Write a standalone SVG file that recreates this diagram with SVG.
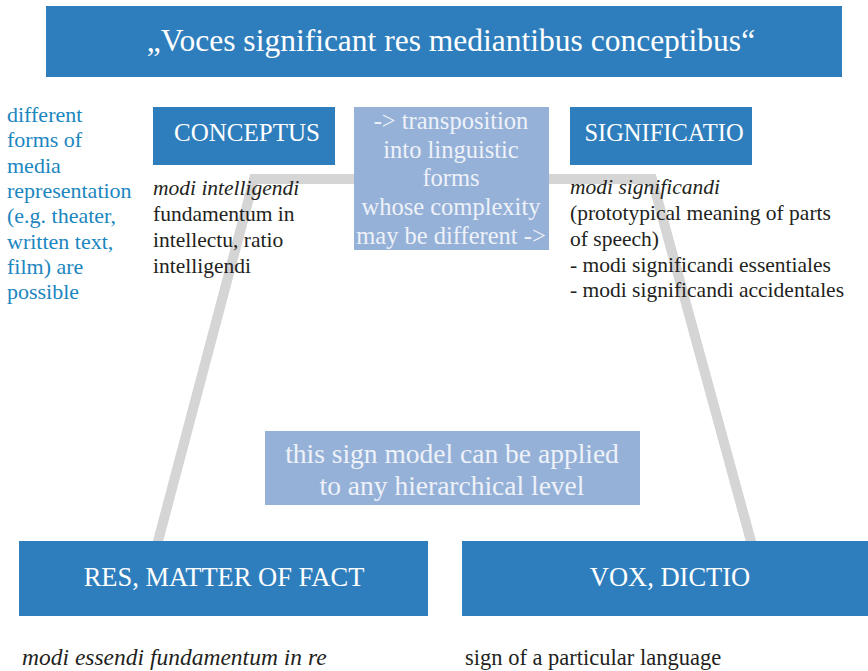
<svg xmlns="http://www.w3.org/2000/svg" width="868" height="671" viewBox="0 0 868 671">
<style>
.dark{fill:#2e7ebd}
.light{fill:#95b1d8}
.wt{fill:#ffffff;text-anchor:middle}
.lt{fill:#eef2f8;text-anchor:middle}
.body{fill:#231f20;font-size:21.5px}
.side{fill:#1b86c0;font-size:22px}
.conn{fill:none;stroke:#d5d5d5;stroke-width:10;stroke-linejoin:miter}
</style>
<rect width="868" height="671" fill="#ffffff"/>
<g id="connectors">
<polyline class="conn" points="157,545 254,179 652,179 752,545"/>
</g>
<g id="title">
<rect class="dark" x="46" y="6" width="796" height="71"/>
<text class="wt" x="451" y="51" font-size="31.5" font-family="Liberation Serif">„Voces significant res mediantibus conceptibus“</text>
</g>
<g id="side-note">
<text class="side" x="7" y="122" font-family="Liberation Serif">different</text>
<text class="side" x="7" y="147.3" font-family="Liberation Serif">forms of</text>
<text class="side" x="7" y="172.6" font-family="Liberation Serif">media</text>
<text class="side" x="7" y="197.9" font-family="Liberation Serif">representation</text>
<text class="side" x="7" y="223.2" font-family="Liberation Serif">(e.g. theater,</text>
<text class="side" x="7" y="248.5" font-family="Liberation Serif">written text,</text>
<text class="side" x="7" y="273.8" font-family="Liberation Serif">film) are</text>
<text class="side" x="7" y="299.1" font-family="Liberation Serif">possible</text>
</g>
<g id="conceptus">
<rect class="dark" x="153" y="107" width="182" height="58"/>
<text class="wt" x="247" y="141" font-size="25" font-family="Liberation Serif">CONCEPTUS</text>
<text class="body" x="153" y="195" font-style="italic" font-family="Liberation Serif">modi intelligendi</text>
<text class="body" x="153" y="221" font-family="Liberation Serif">fundamentum in</text>
<text class="body" x="153" y="247" font-family="Liberation Serif">intellectu, ratio</text>
<text class="body" x="153" y="273" font-family="Liberation Serif">intelligendi</text>
</g>
<g id="transposition">
<rect class="light" x="354" y="107" width="195" height="143"/>
<text class="lt" x="451" y="129" font-size="24.5" font-family="Liberation Serif">-&gt; transposition</text>
<text class="lt" x="451" y="158" font-size="24.5" font-family="Liberation Serif">into linguistic</text>
<text class="lt" x="451" y="186" font-size="24.5" font-family="Liberation Serif">forms</text>
<text class="lt" x="451" y="215" font-size="24.5" font-family="Liberation Serif">whose complexity</text>
<text class="lt" x="451" y="244" font-size="24.5" font-family="Liberation Serif">may be different -&gt;</text>
</g>
<g id="significatio">
<rect class="dark" x="570" y="107" width="182" height="58"/>
<text class="wt" x="664" y="141" font-size="24.5" font-family="Liberation Serif">SIGNIFICATIO</text>
<text class="body" x="570" y="194" font-style="italic" font-family="Liberation Serif">modi significandi</text>
<text class="body" x="570" y="220" font-family="Liberation Serif">(prototypical meaning of parts</text>
<text class="body" x="570" y="246" font-family="Liberation Serif">of speech)</text>
<text class="body" x="570" y="271.5" font-family="Liberation Serif">- modi significandi essentiales</text>
<text class="body" x="570" y="297" font-family="Liberation Serif">- modi significandi accidentales</text>
</g>
<g id="hierarchy-note">
<rect class="light" x="265" y="431" width="375" height="74"/>
<text class="lt" x="452" y="463" font-size="27.5" font-family="Liberation Serif">this sign model can be applied</text>
<text class="lt" x="452" y="495" font-size="27.5" font-family="Liberation Serif">to any hierarchical level</text>
</g>
<g id="res">
<rect class="dark" x="19" y="541" width="409" height="75"/>
<text class="wt" x="224" y="586" font-size="26.5" font-family="Liberation Serif">RES, MATTER OF FACT</text>
<text class="body" x="22" y="665" font-style="italic" font-size="23.5" font-family="Liberation Serif" style="font-size:23.5px">modi essendi fundamentum in re</text>
</g>
<g id="vox">
<rect class="dark" x="462" y="541" width="406" height="75"/>
<text class="wt" x="670" y="586" font-size="26.5" font-family="Liberation Serif">VOX, DICTIO</text>
<text class="body" x="465" y="665" font-family="Liberation Serif" style="font-size:22.5px">sign of a particular language</text>
</g>
</svg>
